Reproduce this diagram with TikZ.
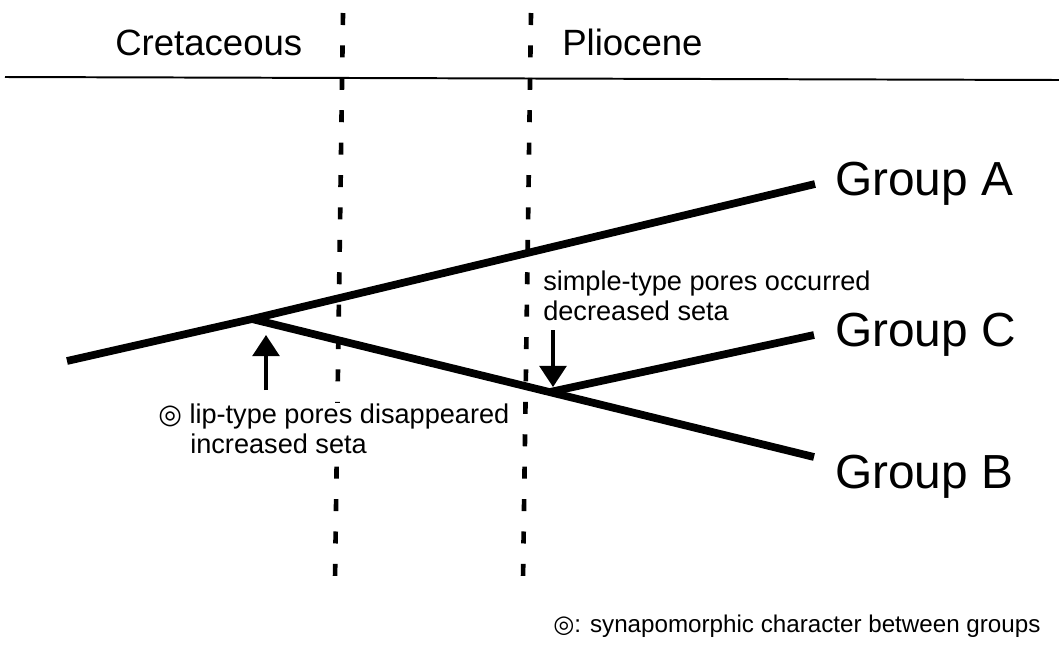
\documentclass[tikz,border=0pt]{standalone}
\usepackage{fontspec}
\setmainfont{Liberation Sans}
\newfontfamily\symfont{DejaVu Sans}
\usetikzlibrary{arrows.meta,positioning}

\begin{document}
\begin{tikzpicture}[
  x=0.025cm, y=-0.025cm,
  branch/.style = {line width=5.5pt, line cap=butt},
  epoch/.style  = {line width=3.3pt, dash pattern=on 0.3cm off 0.51cm},
  arr/.style    = {-{Triangle[length=15pt,width=19pt]}, line width=2.6pt},
  grp/.style    = {font=\fontsize{34}{38}\selectfont, inner sep=0pt, anchor=base west},
  per/.style    = {font=\fontsize{26}{29}\selectfont, inner sep=0pt, anchor=base west},
  note/.style   = {font=\fontsize{19.3}{21}\selectfont, inner sep=0pt, anchor=base west, fill=white},
  foot/.style   = {font=\fontsize{17.2}{19}\selectfont, inner sep=0pt, anchor=base west}
]
\useasboundingbox (0,0) rectangle (1059,653);
%% Time axis and period borders
\coordinate (axL) at (5,77);
\coordinate (axR) at (1059,80);
\draw[line width=1.4pt] (axL)--(axR);
\node[per] (cre) at (115,55) {Cretaceous};
\node[per] (pli) at (562,55) {Pliocene};
\coordinate (d1t) at (343,13); \coordinate (d1b) at (335,580);
\coordinate (d2t) at (531,13); \coordinate (d2b) at (523,580);
\draw[epoch] (d1t)--(d1b); \draw[epoch] (d2t)--(d2b);
%% Tree
\coordinate (root) at (67,361);
\coordinate (nAB)  at (252,319);
\coordinate (nBC)  at (550,392);
\coordinate (endA) at (815,184);
\coordinate (endC) at (814,335);
\coordinate (endB) at (814,457);
\draw[branch] (root)--(nAB)--(endA);
\draw[branch] (nAB)--(endB);
\draw[branch] (nBC)--(endC);
%% Group labels
\node[grp] (grpA) at (835,195) {Group A};
\node[grp] (grpC) at (835,346) {Group C};
\node[grp] (grpB) at (835,488) {Group B};
%% Character changes
\coordinate (upT) at (266,390); \coordinate (upH) at (266,335);
\coordinate (dnT) at (553,330); \coordinate (dnH) at (553,387);
\draw[arr] (upT)--(upH);
\draw[arr] (dnT)--(dnH);
\node[note] (lip1) at (158,423) {{\symfont ◎} lip-type pores disappeared};
\node[note] (lip2) at (190,453) {increased seta};
\node[note] (sim1) at (543,290) {simple-type pores occurred};
\node[note] (sim2) at (543,320) {decreased seta};
%% Key
\node[foot] (key) at (553,632) {{\symfont ◎}: synapomorphic character between groups};
\end{tikzpicture}
\end{document}
